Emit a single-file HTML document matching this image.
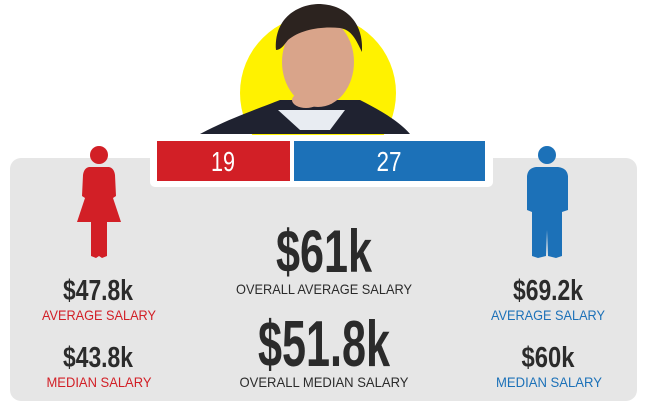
<!DOCTYPE html>
<html><head><meta charset="utf-8"><style>
body{margin:0;background:#fff;}
svg{display:block;font-family:"Liberation Sans Narrow","Liberation Sans",sans-serif;}
</style></head><body>
<svg width="645" height="403" viewBox="0 0 645 403">
<rect x="10" y="158" width="627" height="243" rx="11" fill="#e6e6e6"/>
<g>
<circle cx="318" cy="93" r="78" fill="#fff200"/>
<path d="M200 134 C230 118 260 108 280 100 L360 100 C380 110 400 122 410 134 Z" fill="#1f2230"/>
<path d="M278 110 L300 130 L330 130 L345 110 Z" fill="#e8ecf2"/>
<ellipse cx="318" cy="62" rx="36" ry="45" fill="#d9a48a"/>
<path d="M276 50 C274 20 295 5 318 4 C345 4 364 22 362 52 C356 40 352 30 340 28 C320 26 300 30 288 40 C284 45 281 50 276 50 Z" fill="#2c231f"/>
<ellipse cx="306" cy="100" rx="14" ry="8" fill="#d9a48a"/>
</g>
<rect x="150" y="135" width="343" height="52" rx="5" fill="#fff"/>
<rect x="157" y="141" width="133" height="40" fill="#d21f26"/>
<rect x="294" y="141" width="191" height="40" fill="#1c71b8"/>
<text x="223" y="171" text-anchor="middle" font-size="28" fill="#fff" textLength="24" lengthAdjust="spacingAndGlyphs">19</text>
<text x="389" y="171" text-anchor="middle" font-size="28" fill="#fff" textLength="25" lengthAdjust="spacingAndGlyphs">27</text>
<g fill="#d21f26">
<circle cx="99" cy="155" r="9"/>
<path d="M89 167 L109 167 Q114 168 115 175 L116 196 L113 198 L121 222 L107 222 L107 256 L102 258 L99 256 L96 258 L91 256 L91 222 L77 222 L85 198 L82 196 L83 175 Q84 168 89 167 Z"/>
</g>
<g fill="#1c71b8">
<circle cx="547" cy="155" r="9"/>
<path d="M536 167 L558 167 Q567 168 568 176 L568 210 L562 212 L562 256 L556 258 L548 256 L547 230 L546 256 L538 258 L532 256 L532 212 L527 210 L527 176 Q528 168 536 167 Z"/>
</g>
<g font-weight="bold" fill="#2b2b2b">
<text x="98" y="300" text-anchor="middle" font-size="29" textLength="70" lengthAdjust="spacingAndGlyphs">$47.8k</text>
<text x="98" y="367" text-anchor="middle" font-size="29" textLength="70" lengthAdjust="spacingAndGlyphs">$43.8k</text>
<text x="324" y="272" text-anchor="middle" font-size="60" textLength="96" lengthAdjust="spacingAndGlyphs">$61k</text>
<text x="324" y="366" text-anchor="middle" font-size="65" textLength="132" lengthAdjust="spacingAndGlyphs">$51.8k</text>
<text x="548" y="300" text-anchor="middle" font-size="29" textLength="70" lengthAdjust="spacingAndGlyphs">$69.2k</text>
<text x="548" y="367" text-anchor="middle" font-size="29" textLength="53" lengthAdjust="spacingAndGlyphs">$60k</text>
</g>
<g font-size="14">
<text x="99" y="320" text-anchor="middle" fill="#d21f26" textLength="114" lengthAdjust="spacingAndGlyphs">AVERAGE SALARY</text>
<text x="99" y="387" text-anchor="middle" fill="#d21f26" textLength="105" lengthAdjust="spacingAndGlyphs">MEDIAN SALARY</text>
<text x="324" y="294" text-anchor="middle" fill="#2b2b2b" textLength="176" lengthAdjust="spacingAndGlyphs">OVERALL AVERAGE SALARY</text>
<text x="324" y="387" text-anchor="middle" fill="#2b2b2b" textLength="169" lengthAdjust="spacingAndGlyphs">OVERALL MEDIAN SALARY</text>
<text x="548" y="320" text-anchor="middle" fill="#1c71b8" textLength="114" lengthAdjust="spacingAndGlyphs">AVERAGE SALARY</text>
<text x="549" y="387" text-anchor="middle" fill="#1c71b8" textLength="106" lengthAdjust="spacingAndGlyphs">MEDIAN SALARY</text>
</g>
</svg>
</body></html>
